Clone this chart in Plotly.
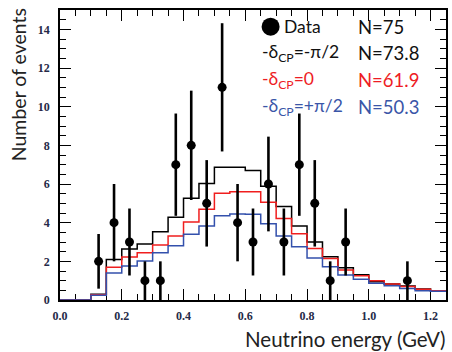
import numpy as np
import plotly.graph_objects as go

# Bin edges of the reconstructed neutrino energy (GeV), 0.05 GeV wide
bin_width = 0.05
n_bins = 25
edges = np.round(np.arange(n_bins + 1) * bin_width, 3)

# Expected events per bin for three values of delta_CP
pred_minus_half_pi = [0, 0, 0.30, 2.10, 2.64, 2.90, 3.53, 4.28, 5.26, 6.03, 6.86, 6.86, 6.70,
                      5.88, 4.83, 3.83, 3.00, 2.24, 1.67, 1.31, 0.95, 0.83, 0.72, 0.57, 0.48]
pred_zero = [0, 0, 0.27, 1.69, 2.22, 2.45, 2.84, 3.31, 4.03, 4.69, 5.52, 5.60, 5.60,
             5.05, 4.21, 3.43, 2.67, 2.15, 1.55, 1.26, 1.00, 0.83, 0.70, 0.55, 0.48]
pred_plus_half_pi = [0, 0, 0.25, 1.40, 1.76, 2.02, 2.45, 2.81, 3.40, 3.83, 4.36, 4.45, 4.43,
                     3.95, 3.31, 2.76, 2.17, 1.72, 1.29, 1.07, 0.86, 0.74, 0.60, 0.48, 0.45]

# Observed events (non-empty bins only), at bin centres
data_energy = [0.125, 0.175, 0.225, 0.275, 0.325, 0.375, 0.425, 0.475, 0.525,
               0.575, 0.625, 0.675, 0.725, 0.775, 0.825, 0.875, 0.925, 1.125]
data_counts = [2, 4, 3, 1, 1, 7, 8, 5, 11, 4, 3, 6, 3, 7, 5, 1, 3, 1]

# Legend entries
legend_labels = ["Data", "-δ<sub>CP</sub>=-π/2", "-δ<sub>CP</sub>=0", "-δ<sub>CP</sub>=+π/2"]
legend_totals = ["N=75", "N=73.8", "N=61.9", "N=50.3"]
legend_colors = ["#111111", "#111111", "#ee1c24", "#3a56a8"]

x_ticks = [0.0, 0.2, 0.4, 0.6, 0.8, 1.0, 1.2]
y_ticks = [0, 2, 4, 6, 8, 10, 12, 14]

fig = go.Figure()

hist_series = [
    (pred_minus_half_pi, "#000000"),
    (pred_zero, "#f01e1e"),
    (pred_plus_half_pi, "#3350ac"),
]
for values, color in hist_series:
    y_step = list(values) + [values[-1]]
    fig.add_trace(go.Scatter(
        x=edges, y=y_step, mode="lines", line_shape="hv",
        line=dict(color=color, width=1.5), hoverinfo="skip", showlegend=False,
    ))

fig.add_trace(go.Scatter(
    x=data_energy, y=data_counts, mode="markers",
    marker=dict(color="black", size=9, symbol="circle"),
    error_y=dict(type="data", array=np.sqrt(data_counts), color="black",
                 thickness=2.6, width=0),
    showlegend=False,
))

# Plot area in pixels: left 60, right 448, top 10, bottom 300
L, R, T, B = 60, 448, 10, 300


def px_x(p):
    return (p - L) / (R - L)


def px_y(p):
    return (B - p) / (B - T)


tick_font = dict(family="Liberation Serif", size=12, color="#252a48", weight="bold")
label_font = "Lato"

fig.update_layout(
    width=452, height=352,
    margin=dict(l=L, r=452 - R, t=T, b=352 - B),
    paper_bgcolor="white", plot_bgcolor="white",
    xaxis=dict(
        range=[0, 1.25], tickvals=x_ticks, tickformat=".1f",
        ticks="inside", ticklen=11, tickwidth=1.2, tickcolor="black",
        minor=dict(dtick=0.05, tick0=0, ticks="inside", ticklen=6, tickwidth=1.2, tickcolor="black"),
        showline=True, linecolor="black", linewidth=1.5, mirror="ticks",
        showgrid=False, zeroline=False, tickfont=tick_font, ticklabelstandoff=4,
        layer="below traces",
    ),
    yaxis=dict(
        range=[0, 15], tickvals=y_ticks,
        ticks="inside", ticklen=11, tickwidth=1.2, tickcolor="black",
        minor=dict(dtick=0.5, tick0=0, ticks="inside", ticklen=6, tickwidth=1.2, tickcolor="black"),
        showline=True, linecolor="black", linewidth=1.5, mirror="ticks",
        showgrid=False, zeroline=False, tickfont=tick_font, ticklabelstandoff=6,
        layer="below traces",
    ),
)

annotations = [
    dict(text="Number of events", x=px_x(19), y=px_y(85), xref="paper", yref="paper",
         textangle=-90, showarrow=False, xanchor="center", yanchor="middle",
         font=dict(family=label_font, size=19.5, color="#222222")),
    dict(text="Neutrino energy (GeV)", x=px_x(450), y=px_y(339), xref="paper", yref="paper",
         showarrow=False, xanchor="right", yanchor="middle",
         font=dict(family=label_font, size=20.5, color="#222222")),
]

row_y = [26.7, 53.3, 80.0, 106.7]
for i, (lab, tot, col) in enumerate(zip(legend_labels, legend_totals, legend_colors)):
    x_lab = 283 if i == 0 else 261
    annotations.append(dict(text=lab, x=px_x(x_lab), y=px_y(row_y[i]), xref="paper", yref="paper",
                            showarrow=False, xanchor="left", yanchor="middle",
                            font=dict(family=label_font, size=17.5, color=col)))
    annotations.append(dict(text=tot, x=px_x(358), y=px_y(row_y[i]), xref="paper", yref="paper",
                            showarrow=False, xanchor="left", yanchor="middle",
                            font=dict(family=label_font, size=18.5, color=col)))

fig.update_layout(annotations=annotations)

# Filled marker for the "Data" legend entry
fig.add_shape(type="circle", xref="paper", yref="paper",
              xsizemode="pixel", ysizemode="pixel",
              xanchor=px_x(271.7), yanchor=px_y(26.7),
              x0=-9, x1=9, y0=-9, y1=9,
              fillcolor="black", line=dict(color="black", width=0))

fig.write_html("out.html")
